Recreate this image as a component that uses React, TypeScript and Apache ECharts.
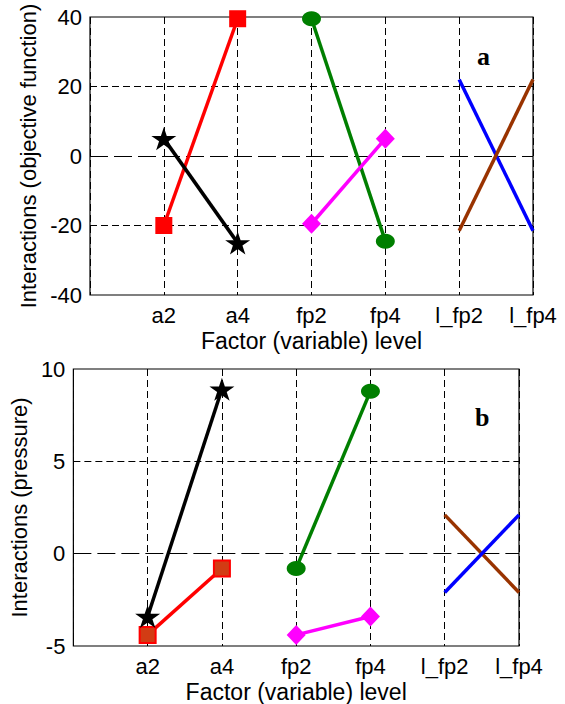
import React, { useEffect, useRef } from "react";
import * as echarts from "echarts";

// Factor levels along the horizontal axis (positions 1..6; position 0 is left blank)
const levels = ["a2", "a4", "fp2", "fp4", "l_fp2", "l_fp4"];

// Panel a: interactions on the objective function
const objTicks = [-40, -20, 0, 20, 40];
const objA_square = [-20, 39.5]; // a2, a4
const objA_star = [5, -25]; // a2, a4
const objFp_circle = [39.5, -24.5]; // fp2, fp4
const objFp_diamond = [-19.5, 5]; // fp2, fp4
const objLfp_blue = [22, -21.5]; // l_fp2, l_fp4
const objLfp_brown = [-21.5, 22]; // l_fp2, l_fp4

// Panel b: interactions on the pressure
const presTicks = [-5, 0, 5, 10];
const presA_square = [-4.4, -0.8];
const presA_star = [-3.4, 8.9];
const presFp_circle = [-0.8, 8.8];
const presFp_diamond = [-4.4, -3.4];
const presLfp_brown = [2.1, -2.1];
const presLfp_blue = [-2.1, 2.1];

const pos = (name: string) => levels.indexOf(name) + 1;
const pair = (names: string[], values: number[]) =>
  values.map((v, i) => [pos(names[i]), v]);

const A = ["a2", "a4"];
const FP = ["fp2", "fp4"];
const LFP = ["l_fp2", "l_fp4"];

const STAR =
  "path://M50,0 L61.2,34.5 L97.6,34.5 L68.2,55.9 L79.4,90.5 L50,69.1 L20.6,90.5 L31.8,55.9 L2.4,34.5 L38.8,34.5 Z";

const FONT = "Liberation Sans, Arial, sans-serif";

function lineSeries(
  idx: number,
  data: number[][],
  color: string,
  symbol: string,
  symbolSize: number | number[]
) {
  return {
    type: "line",
    xAxisIndex: idx,
    yAxisIndex: idx,
    data,
    symbol,
    symbolSize,
    showSymbol: symbol !== "none",
    lineStyle: { color, width: 3.5 },
    itemStyle: { color },
    z: 5,
    silent: true,
  };
}

function gridLines(idx: number, ticks: number[], lo: number, hi: number) {
  // horizontal reference lines: dashed grid plus a long-dash zero line
  return {
    type: "line",
    xAxisIndex: idx,
    yAxisIndex: idx,
    data: [],
    silent: true,
    z: 1,
    markLine: {
      silent: true,
      symbol: "none",
      label: { show: false },
      data: ticks
        .filter((t) => t !== lo && t !== hi)
        .map((t) => ({
          yAxis: t,
          lineStyle:
            t === 0
              ? { color: "#000", width: 1, type: [18, 6] }
              : { color: "#000", width: 1, type: [7, 4] },
        })),
    },
  };
}

function xAxis(idx: number) {
  return {
    type: "value",
    gridIndex: idx,
    min: 0,
    max: 6,
    interval: 1,
    name: "Factor (variable) level",
    nameLocation: "middle",
    nameGap: 34,
    nameTextStyle: { color: "#000", fontSize: 23, fontFamily: FONT },
    axisLine: { show: false },
    axisTick: { show: false },
    axisLabel: {
      color: "#000",
      fontSize: 22,
      fontFamily: FONT,
      margin: 9,
      showMinLabel: true,
      showMaxLabel: true,
      formatter: (v: number) => (v >= 1 ? levels[v - 1] : ""),
    },
    splitLine: { show: true, lineStyle: { color: "#000", width: 1, type: [7, 4] } },
  };
}

function yAxis(idx: number, name: string, ticks: number[], nameGap: number) {
  return {
    type: "value",
    gridIndex: idx,
    min: ticks[0],
    max: ticks[ticks.length - 1],
    interval: ticks[1] - ticks[0],
    name,
    nameLocation: "middle",
    nameGap,
    nameTextStyle: { color: "#000", fontSize: 22, fontFamily: FONT },
    axisLine: { show: false },
    axisTick: { show: false },
    axisLabel: { color: "#000", fontSize: 22, fontFamily: FONT, margin: 8 },
    splitLine: { show: false },
  };
}

export default function App() {
  const ref = useRef<HTMLDivElement>(null);

  useEffect(() => {
    if (!ref.current) return;
    const chart = echarts.init(ref.current, undefined, { renderer: "svg" });

    chart.setOption({
      animation: false,
      backgroundColor: "#fff",
      grid: [
        { left: 90, top: 17, width: 443, height: 278, show: true, borderColor: "#000", borderWidth: 1.2, backgroundColor: "transparent", z: 3 },
        { left: 65, top: 369, width: 454, height: 277, show: true, borderColor: "#000", borderWidth: 1.2, backgroundColor: "transparent", z: 3 },
      ],
      xAxis: [xAxis(0), xAxis(1)],
      yAxis: [
        yAxis(0, "Interactions (objective function)", objTicks, 49),
        yAxis(1, "Interactions (pressure)", presTicks, 34),
      ],
      graphic: [
        {
          type: "text",
          left: 477,
          top: 43,
          style: { text: "a", fill: "#000", font: "bold 26px 'Liberation Serif', 'Times New Roman', serif" },
        },
        {
          type: "text",
          left: 475,
          top: 404,
          style: { text: "b", fill: "#000", font: "bold 26px 'Liberation Serif', 'Times New Roman', serif" },
        },
      ],
      series: [
        gridLines(0, objTicks, -40, 40),
        gridLines(1, presTicks, -5, 10),
        // panel a
        lineSeries(0, pair(A, objA_square), "#ff0000", "rect", 17),
        lineSeries(0, pair(A, objA_star), "#000000", STAR, [25, 23]),
        lineSeries(0, pair(FP, objFp_circle), "#007f00", "circle", [19, 15]),
        lineSeries(0, pair(FP, objFp_diamond), "#ff00ff", "diamond", [19, 20]),
        lineSeries(0, pair(LFP, objLfp_blue), "#0000ff", "none", 0),
        lineSeries(0, pair(LFP, objLfp_brown), "#993300", "none", 0),
        // panel b
        {
          ...lineSeries(1, pair(A, presA_square), "#ff0000", "rect", 16),
          itemStyle: { color: "#d23c14", borderColor: "#ff0000", borderWidth: 2 },
        },
        lineSeries(1, pair(A, presA_star), "#000000", STAR, [25, 23]),
        lineSeries(1, pair(FP, presFp_circle), "#007f00", "circle", [19, 15]),
        lineSeries(1, pair(FP, presFp_diamond), "#ff00ff", "diamond", [19, 20]),
        lineSeries(1, pair(LFP, presLfp_brown), "#993300", "none", 0),
        lineSeries(1, pair(LFP, presLfp_blue), "#0000ff", "none", 0),
      ],
    });

    return () => chart.dispose();
  }, []);

  return (
    <div
      ref={ref}
      style={{ position: "absolute", left: 0, top: 0, width: 565, height: 704 }}
    />
  );
}
